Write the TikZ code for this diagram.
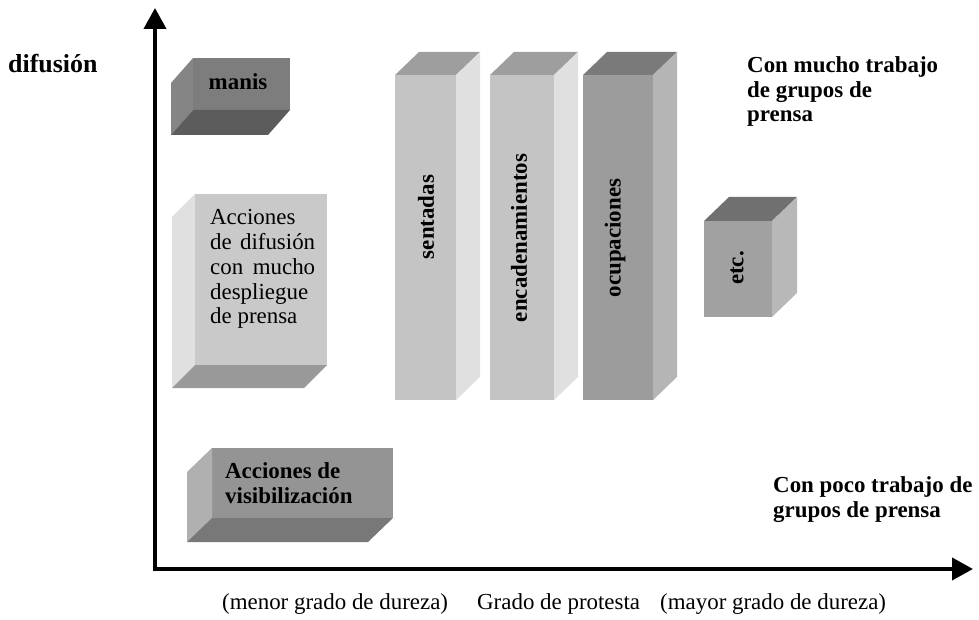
\documentclass[tikz,border=0pt]{standalone}
\usepackage{fontspec}
\setmainfont{Liberation Serif}
\usetikzlibrary{positioning, arrows.meta}

\definecolor{barfront}{gray}{0.77}
\definecolor{barside}{gray}{0.88}
\definecolor{bartop}{gray}{0.62}
\definecolor{ocufront}{gray}{0.61}
\definecolor{ocuside}{gray}{0.71}
\definecolor{ocutop}{gray}{0.48}
\definecolor{etcfront}{gray}{0.63}
\definecolor{etcside}{gray}{0.72}
\definecolor{etctop}{gray}{0.44}
\definecolor{manfront}{gray}{0.49}
\definecolor{manside}{gray}{0.52}
\definecolor{manbottom}{gray}{0.36}
\definecolor{diffront}{gray}{0.79}
\definecolor{difside}{gray}{0.88}
\definecolor{difbottom}{gray}{0.60}
\definecolor{visfront}{gray}{0.58}
\definecolor{visside}{gray}{0.69}
\definecolor{visbottom}{gray}{0.47}

\begin{document}
\begin{tikzpicture}[x=1bp, y=-1bp, >={Triangle[width=22bp,length=21bp]},
    face/.style={draw=none, inner sep=0pt, outer sep=0pt},
    txt/.style={font=\fontsize{23}{25}\selectfont, inner sep=0pt},
    btxt/.style={font=\fontsize{23}{25}\selectfont\bfseries, inner sep=0pt},
    axis/.style={line width=4bp, <->, line join=miter}]
  \useasboundingbox (0,0) rectangle (979,620);

  % ejes
  \coordinate (ytip) at (155,8);
  \coordinate (o) at (155,569);
  \coordinate (xtip) at (973,569);
  \draw[axis] (ytip) -- (o) -- (xtip);

  % barras verticales
  \node[face, fill=barfront, minimum width=61bp, minimum height=325bp] (sent) at (425.5,237.5) {};
  \node[face, fill=barfront, minimum width=64bp, minimum height=325bp, right=34bp of sent] (encad) {};
  \node[face, fill=ocufront, minimum width=70bp, minimum height=325bp, right=29bp of encad] (ocup) {};
  \fill[bartop] (sent.north west) -- ++(24,-23) -- ++(61,0) -- (sent.north east) -- cycle;
  \fill[barside] (sent.north east) -- ++(24,-23) -- ++(0,325) -- (sent.south east) -- cycle;
  \fill[bartop] (encad.north west) -- ++(24,-23) -- ++(64,0) -- (encad.north east) -- cycle;
  \fill[barside] (encad.north east) -- ++(24,-23) -- ++(0,325) -- (encad.south east) -- cycle;
  \fill[ocutop] (ocup.north west) -- ++(24,-23) -- ++(70,0) -- (ocup.north east) -- cycle;
  \fill[ocuside] (ocup.north east) -- ++(24,-23) -- ++(0,325) -- (ocup.south east) -- cycle;
  \node[btxt, rotate=90] (sentlbl) at (426,217) {sentadas};
  \node[btxt, rotate=90] (encadlbl) at (519,238) {encadenamientos};
  \node[btxt, rotate=90] (ocuplbl) at (615,238) {ocupaciones};

  % etc.
  \node[face, fill=etcfront, minimum width=68bp, minimum height=96bp] (etc) at (738,269) {};
  \fill[etctop] (etc.north west) -- ++(25,-24) -- ++(68,0) -- (etc.north east) -- cycle;
  \fill[etcside] (etc.north east) -- ++(25,-24) -- ++(0,96) -- (etc.south east) -- cycle;
  \node[btxt, rotate=90] (etclbl) at (737,268) {etc.};

  % cajas de la izquierda
  \node[face, fill=manfront, minimum width=97bp, minimum height=52bp] (manis) at (241.5,84) {};
  \fill[manside] (manis.north west) -- ++(-22,25) -- ++(0,52) -- (manis.south west) -- cycle;
  \fill[manbottom] (manis.south west) -- ++(-22,25) -- ++(97,0) -- (manis.south east) -- cycle;
  \node[btxt] (manislbl) at (238,82) {manis};

  \node[face, fill=diffront, minimum width=132bp, minimum height=171bp] (difus) at (261,279.5) {};
  \fill[difside] (difus.north west) -- ++(-23,23) -- ++(0,171) -- (difus.south west) -- cycle;
  \fill[difbottom] (difus.south west) -- ++(-23,23) -- ++(132,0) -- (difus.south east) -- cycle;
  \node[txt, align=left, anchor=north west] (difuslbl) at (210,209)
    {Acciones\\\makebox[105bp][s]{de difusión}\\\makebox[105bp][s]{con mucho}\\despliegue\\de prensa};

  \node[face, fill=visfront, minimum width=181bp, minimum height=70bp] (visib) at (302.5,483) {};
  \fill[visside] (visib.north west) -- ++(-25,24) -- ++(0,70) -- (visib.south west) -- cycle;
  \fill[visbottom] (visib.south west) -- ++(-25,24) -- ++(181,0) -- (visib.south east) -- cycle;
  \node[btxt, align=left, anchor=north west] (visiblbl) at (225,462) {Acciones de\\visibilización};

  % textos de los ejes
  \node[btxt, font=\fontsize{26}{28}\selectfont\bfseries, anchor=base west] (ylbl) at (8,73) {difusión};
  \node[btxt, align=left, anchor=north west] (mucho) at (747,56) {Con mucho trabajo\\de grupos de\\prensa};
  \node[btxt, align=left, anchor=north west] (poco) at (773,476) {Con poco trabajo de\\grupos de prensa};
  \node[txt, anchor=base west] (menor) at (222,609) {(menor grado de dureza)};
  \node[txt, anchor=base west] (grado) at (477,609) {Grado de protesta};
  \node[txt, anchor=base west] (mayor) at (660,609) {(mayor grado de dureza)};
\end{tikzpicture}
\end{document}
